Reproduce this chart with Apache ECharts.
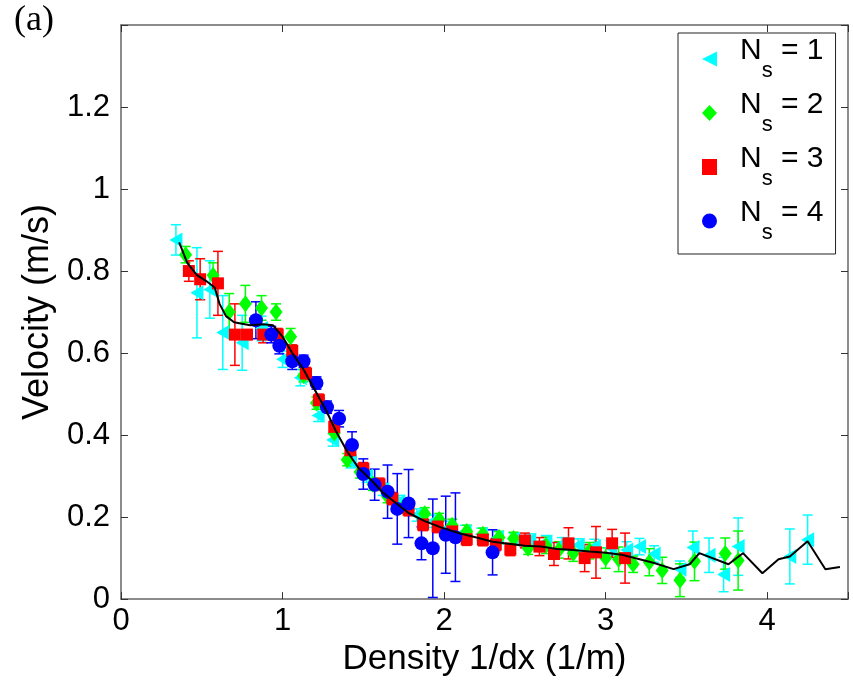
<!DOCTYPE html>
<html><head><meta charset="utf-8">
<script src="https://cdn.jsdelivr.net/npm/echarts@6/dist/echarts.min.js"></script>
<style>html,body{margin:0;padding:0;background:#fff}#c{width:853px;height:682px}</style>
</head><body><div id="c"></div>
<script>
// ---- data ----
const xTicks = [0, 1, 2, 3, 4];
const yTicks = [0, 0.2, 0.4, 0.6, 0.8, 1, 1.2];
const legendNames = ['N1', 'N2', 'N3', 'N4'];

const s1X = [0.34,0.47,0.55,0.63,0.75,0.87,1.0,1.11,1.22,1.31,1.42,1.52,1.62,1.72,1.83,1.93,2.03,2.13,2.23,2.33,2.43,2.53,2.63,2.73,2.83,2.93,3.03,3.13,3.21,3.30,3.46,3.54,3.64,3.73,3.82,4.14,4.25];
const s1Y = [0.876,0.747,0.755,0.650,0.625,0.660,0.585,0.540,0.448,0.388,0.335,0.300,0.268,0.238,0.205,0.190,0.175,0.165,0.158,0.150,0.146,0.144,0.140,0.135,0.132,0.128,0.125,0.120,0.128,0.110,0.073,0.126,0.107,0.060,0.128,0.104,0.145];
const s1E = [0.037,0.11,0.07,0.09,0.067,0.03,0.02,0.02,0.015,0.015,0.015,0.015,0.015,0.015,0.015,0.015,0.015,0.015,0.015,0.015,0.015,0.015,0.015,0.015,0.015,0.018,0.018,0.02,0.02,0.02,0.02,0.04,0.042,0.042,0.07,0.067,0.06];

const s2X = [0.40,0.57,0.67,0.77,0.87,0.96,1.05,1.13,1.21,1.32,1.40,1.48,1.56,1.65,1.75,1.88,1.97,2.05,2.14,2.24,2.34,2.43,2.52,2.63,2.71,2.80,2.90,3.00,3.08,3.17,3.27,3.35,3.46,3.55,3.74,3.82];
const s2Y = [0.84,0.79,0.70,0.72,0.71,0.70,0.64,0.545,0.478,0.405,0.34,0.31,0.28,0.25,0.225,0.208,0.194,0.18,0.165,0.158,0.15,0.148,0.124,0.131,0.12,0.112,0.118,0.10,0.097,0.085,0.09,0.07,0.046,0.092,0.111,0.094];
const s2E = [0.02,0.03,0.045,0.045,0.03,0.02,0.02,0.015,0.015,0.015,0.015,0.015,0.015,0.015,0.015,0.015,0.015,0.015,0.015,0.015,0.015,0.015,0.015,0.02,0.02,0.02,0.02,0.025,0.03,0.02,0.033,0.032,0.04,0.047,0.038,0.072];

const s3X = [0.42,0.49,0.60,0.705,0.78,0.88,0.97,1.06,1.145,1.225,1.32,1.42,1.50,1.60,1.68,1.78,1.87,1.96,2.05,2.14,2.24,2.32,2.41,2.50,2.59,2.68,2.77,2.87,2.94,3.04,3.12];
const s3Y = [0.80,0.78,0.77,0.645,0.645,0.645,0.645,0.605,0.55,0.485,0.42,0.363,0.318,0.28,0.245,0.218,0.182,0.177,0.165,0.146,0.145,0.133,0.121,0.143,0.128,0.11,0.136,0.10,0.114,0.136,0.10];
const s3E = [0.025,0.05,0.078,0.075,0.012,0.02,0.015,0.015,0.015,0.015,0.015,0.015,0.015,0.015,0.015,0.015,0.015,0.015,0.015,0.015,0.015,0.015,0.015,0.018,0.022,0.028,0.038,0.033,0.063,0.034,0.061];

const s4X = [0.835,0.93,0.98,1.06,1.13,1.21,1.275,1.35,1.43,1.50,1.57,1.65,1.71,1.78,1.86,1.93,2.01,2.07,2.30];
const s4Y = [0.68,0.645,0.618,0.58,0.58,0.527,0.468,0.44,0.376,0.305,0.279,0.262,0.22,0.233,0.136,0.124,0.157,0.151,0.114];
const s4E = [0.045,0.02,0.02,0.02,0.015,0.015,0.015,0.02,0.032,0.037,0.038,0.065,0.086,0.083,0.04,0.12,0.094,0.108,0.055];

const lineX = [0.36,0.41,0.47,0.53,0.58,0.61,0.65,0.70,0.74,0.80,0.88,0.94,1.00,1.06,1.13,1.20,1.27,1.33,1.40,1.47,1.55,1.62,1.70,1.78,1.88,1.98,2.10,2.20,2.30,2.40,2.50,2.60,2.70,2.80,2.90,3.00,3.10,3.21,3.30,3.42,3.52,3.58,3.76,3.85,3.97,4.07,4.14,4.25,4.36,4.45];
const lineY = [0.87,0.82,0.79,0.775,0.76,0.72,0.69,0.675,0.672,0.668,0.67,0.668,0.64,0.60,0.56,0.51,0.46,0.41,0.36,0.32,0.29,0.26,0.235,0.21,0.19,0.175,0.16,0.15,0.14,0.135,0.13,0.128,0.122,0.12,0.116,0.113,0.108,0.097,0.088,0.073,0.085,0.112,0.085,0.112,0.063,0.097,0.104,0.141,0.073,0.078];

// ---- chart ----
const triLeft = 'path://M0,5 L10,0 L10,10 Z';
const colors = ['#00ffff', '#00ff00', '#ff0000', '#0000ff'];
const FONT = 'Liberation Sans, Arial, Helvetica, sans-serif';

function zip(X, Y) { return X.map((x, i) => [x, Y[i]]); }
function errSeries(X, Y, E, color) {
  return {
    type: 'custom', silent: true, clip: true,
    data: X.map((x, i) => [x, Y[i] - E[i], Y[i] + E[i]]),
    encode: { x: 0, y: [1, 2] },
    renderItem: (params, api) => {
      const lo = api.coord([api.value(0), api.value(1)]);
      const hi = api.coord([api.value(0), api.value(2)]);
      const w = 5, st = { stroke: color, lineWidth: 1.5 };
      return { type: 'group', children: [
        { type: 'line', shape: { x1: lo[0], y1: lo[1], x2: hi[0], y2: hi[1] }, style: st },
        { type: 'line', shape: { x1: lo[0] - w, y1: lo[1], x2: lo[0] + w, y2: lo[1] }, style: st },
        { type: 'line', shape: { x1: hi[0] - w, y1: hi[1], x2: hi[0] + w, y2: hi[1] }, style: st }
      ]};
    }
  };
}
function scat(name, X, Y, symbol, size, color) {
  return { name, type: 'scatter', data: zip(X, Y), symbol, symbolSize: size,
    itemStyle: { color, opacity: 1 }, emphasis: { disabled: true } };
}

const axisLineStyle = { color: '#666', width: 1.5 };
const tickStyle = { show: true, inside: true, length: 7, lineStyle: { color: '#333', width: 1 } };

const chart = echarts.init(document.getElementById('c'), null, { renderer: 'canvas' });
chart.setOption({
  animation: false,
  backgroundColor: '#fff',
  grid: { left: 121, right: 5, top: 25, bottom: 80, containLabel: false },
  graphic: [{ type: 'text', left: 14, top: 3, style: { text: '(a)', font: '36px "Liberation Serif", "Times New Roman", serif', fill: '#000' } }],
  legend: {
    orient: 'vertical', left: 678, top: 33,
    padding: [3, 12, 10, 24], itemGap: 8, itemWidth: 15, itemHeight: 16,
    borderColor: '#222', borderWidth: 1, backgroundColor: '#fff',
    data: [
      { name: 'N1', icon: triLeft },
      { name: 'N2', icon: 'diamond' },
      { name: 'N3', icon: 'rect' },
      { name: 'N4', icon: 'circle' }
    ],
    formatter: name => '{g|}{n|N}{s|s}{n| = ' + name.slice(1) + '}',
    textStyle: {
      rich: {
        g: { width: 18, height: 46 },
        n: { fontSize: 30, fontFamily: FONT, color: '#000', verticalAlign: 'top', lineHeight: 32 },
        s: { fontSize: 22, fontFamily: FONT, color: '#000', verticalAlign: 'bottom', lineHeight: 22 }
      }
    }
  },
  xAxis: [{
    type: 'value', min: 0, max: 4.5, interval: 1, position: 'bottom',
    name: 'Density 1/dx (1/m)', nameLocation: 'middle', nameGap: 40,
    nameTextStyle: { fontSize: 35, fontFamily: FONT, color: '#000' },
    axisLine: { show: true, onZero: false, lineStyle: axisLineStyle }, axisTick: tickStyle,
    axisLabel: { fontSize: 31, fontFamily: FONT, color: '#000', margin: 7,
      formatter: v => xTicks.includes(v) ? String(v) : '' },
    splitLine: { show: false }
  }, {
    type: 'value', min: 0, max: 4.5, interval: 1, position: 'top',
    axisLine: { show: true, onZero: false, lineStyle: axisLineStyle }, axisTick: tickStyle,
    axisLabel: { show: false }, splitLine: { show: false }
  }],
  yAxis: [{
    type: 'value', min: 0, max: 1.4, interval: 0.2, position: 'left',
    name: 'Velocity (m/s)', nameLocation: 'middle', nameGap: 62,
    nameTextStyle: { fontSize: 36, fontFamily: FONT, color: '#000' },
    axisLine: { show: true, onZero: false, lineStyle: axisLineStyle }, axisTick: tickStyle,
    axisLabel: { fontSize: 31, fontFamily: FONT, color: '#000', margin: 11,
      formatter: v => { const r = Math.round(v * 10) / 10; return yTicks.includes(r) ? String(r) : ''; } },
    splitLine: { show: false }
  }, {
    type: 'value', min: 0, max: 1.4, interval: 0.2, position: 'right',
    axisLine: { show: true, onZero: false, lineStyle: axisLineStyle }, axisTick: tickStyle,
    axisLabel: { show: false }, splitLine: { show: false }
  }],
  series: [
    { type: 'line', data: zip(lineX, lineY), symbol: 'none', lineStyle: { color: '#000', width: 2 }, silent: true },
    errSeries(s1X, s1Y, s1E, colors[0]),
    scat('N1', s1X, s1Y, triLeft, [13, 15], colors[0]),
    errSeries(s2X, s2Y, s2E, colors[1]),
    scat('N2', s2X, s2Y, 'diamond', [13, 17], colors[1]),
    errSeries(s3X, s3Y, s3E, colors[2]),
    scat('N3', s3X, s3Y, 'rect', [12, 12], colors[2]),
    errSeries(s4X, s4Y, s4E, colors[3]),
    scat('N4', s4X, s4Y, 'circle', 14, colors[3])
  ]
});
</script>
</body></html>
